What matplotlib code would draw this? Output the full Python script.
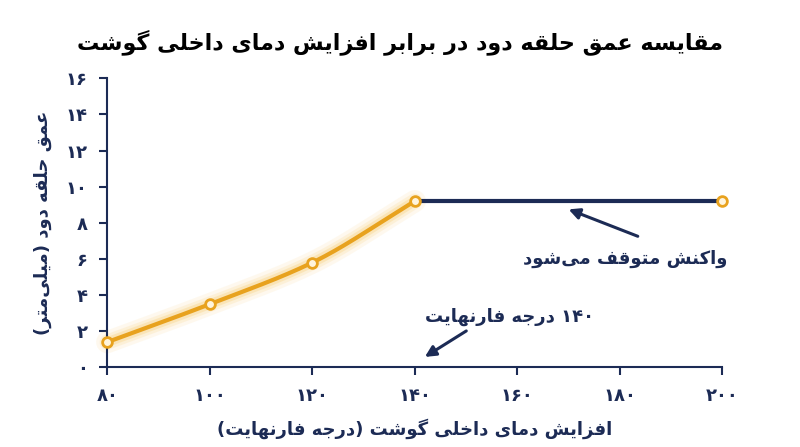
import matplotlib
matplotlib.use("Agg")
import matplotlib.pyplot as plt
import numpy as np

# ---- data ----
temps = [80, 100, 120, 140, 200]
depth = [1.4, 3.5, 5.8, 9.2, 9.2]
x_ticks = [80, 100, 120, 140, 160, 180, 200]
y_ticks = [0, 2, 4, 6, 8, 10, 12, 14, 16]
title_txt = "مقایسه عمق حلقه دود در برابر افزایش دمای داخلی گوشت"
xlabel_txt = "افزایش دمای داخلی گوشت (درجه فارنهایت)"
ylabel_txt = "عمق حلقه دود (میلی\u200cمتر)"
note1 = "واکنش متوقف می\u200cشود"
note2 = "۱۴۰ درجه فارنهایت"

# ---- minimal Persian shaping ----
FORMS = {
 'ا': (0xFE8D, 0xFE8E), 'د': (0xFEA9, 0xFEAA), 'ر': (0xFEAD, 0xFEAE),
 'ز': (0xFEAF, 0xFEB0), 'و': (0xFEED, 0xFEEE),
 'ب': (0xFE8F, 0xFE90, 0xFE91, 0xFE92), 'ت': (0xFE95, 0xFE96, 0xFE97, 0xFE98),
 'ج': (0xFE9D, 0xFE9E, 0xFE9F, 0xFEA0), 'ح': (0xFEA1, 0xFEA2, 0xFEA3, 0xFEA4),
 'خ': (0xFEA5, 0xFEA6, 0xFEA7, 0xFEA8), 'س': (0xFEB1, 0xFEB2, 0xFEB3, 0xFEB4),
 'ش': (0xFEB5, 0xFEB6, 0xFEB7, 0xFEB8), 'ع': (0xFEC9, 0xFECA, 0xFECB, 0xFECC),
 'ف': (0xFED1, 0xFED2, 0xFED3, 0xFED4), 'ق': (0xFED5, 0xFED6, 0xFED7, 0xFED8),
 'ل': (0xFEDD, 0xFEDE, 0xFEDF, 0xFEE0), 'م': (0xFEE1, 0xFEE2, 0xFEE3, 0xFEE4),
 'ن': (0xFEE5, 0xFEE6, 0xFEE7, 0xFEE8), 'ه': (0xFEE9, 0xFEEA, 0xFEEB, 0xFEEC),
 'ی': (0xFBFC, 0xFBFD, 0xFBFE, 0xFBFF), 'ک': (0xFB8E, 0xFB8F, 0xFB90, 0xFB91),
 'گ': (0xFB92, 0xFB93, 0xFB94, 0xFB95),
}

def shape(s):
    out = []
    n = len(s)
    for i, c in enumerate(s):
        if c not in FORMS:
            if c != '\u200c':
                out.append(c)
            continue
        f = FORMS[c]
        prev = s[i-1] if i > 0 else ''
        nxt = s[i+1] if i < n-1 else ''
        jp = prev in FORMS and len(FORMS[prev]) == 4
        jn = len(f) == 4 and nxt in FORMS
        if jp and jn: code = f[3]
        elif jp: code = f[1]
        elif jn: code = f[2]
        else: code = f[0]
        out.append(chr(code))
    vis = ''.join(out)[::-1]
    vis = vis.translate(str.maketrans('()', ')('))
    res, run = [], []
    for c in vis:
        if c.isdigit():
            run.append(c)
        else:
            res.extend(run[::-1]); run = []
            res.append(c)
    res.extend(run[::-1])
    return ''.join(res)

def fa(n):
    return str(n).translate(str.maketrans('0123456789', '۰۱۲۳۴۵۶۷۸۹'))

def pchip(x, y, xs):
    x = np.asarray(x, float); y = np.asarray(y, float)
    h = np.diff(x); d = np.diff(y) / h
    m = np.zeros_like(y)
    for k in range(1, len(x)-1):
        if d[k-1]*d[k] > 0:
            w1 = 2*h[k] + h[k-1]; w2 = h[k] + 2*h[k-1]
            m[k] = (w1 + w2) / (w1/d[k-1] + w2/d[k])
    m[0] = d[0]; m[-1] = d[-1]
    ys = []
    for xv in xs:
        k = min(np.searchsorted(x, xv, side='right') - 1, len(x)-2)
        t = (xv - x[k]) / h[k]
        h00 = 2*t**3 - 3*t**2 + 1; h10 = t**3 - 2*t**2 + t
        h01 = -2*t**3 + 3*t**2; h11 = t**3 - t**2
        ys.append(h00*y[k] + h10*h[k]*m[k] + h01*y[k+1] + h11*h[k]*m[k+1])
    return np.array(ys)

plt.rcParams['font.family'] = ['DejaVu Sans']
NAVY = '#1c2b55'
ORANGE = '#e8a21e'

fig = plt.figure(figsize=(8, 4.47), dpi=100)
ax = fig.add_axes([0.134, 0.178, 0.769, 0.647])

xs = np.linspace(temps[0], temps[3], 200)
ys = pchip(temps[:4], depth[:4], xs)
for lw, a in [(16, 0.10), (11, 0.15), (7, 0.25)]:
    ax.plot(xs, ys, color='#f7c45a', lw=lw, alpha=a, solid_capstyle='round', clip_on=False)
ax.plot(xs, ys, color=ORANGE, lw=3, clip_on=False, zorder=3)
ax.plot(temps[3:], depth[3:], color=NAVY, lw=3, zorder=3, clip_on=False)
ax.plot(temps, depth, 'o', ms=7, mfc='#fff4dc', mec=ORANGE, mew=2, zorder=4, clip_on=False)

ax.set_xlim(80, 200)
ax.set_ylim(0, 16)
ax.set_xticks(x_ticks)
ax.set_xticklabels([fa(v) for v in x_ticks])
ax.set_yticks(y_ticks)
ax.set_yticklabels([fa(v) for v in y_ticks])
for s in ['top', 'right']:
    ax.spines[s].set_visible(False)
for s in ['left', 'bottom']:
    ax.spines[s].set_color(NAVY); ax.spines[s].set_linewidth(1.5)
ax.tick_params(colors=NAVY, labelsize=13, width=1.5, length=6, pad=8)
for lab in ax.get_xticklabels() + ax.get_yticklabels():
    lab.set_fontweight('bold')

ax.set_xlabel(shape(xlabel_txt), fontsize=13, fontweight='bold', color=NAVY, labelpad=10)
ax.set_ylabel(shape(ylabel_txt), fontsize=13, fontweight='bold', color=NAVY, labelpad=10)
fig.suptitle(shape(title_txt), fontsize=16, fontweight='bold', color='black', y=0.935)

ax.annotate('', xy=(169.5, 8.8), xytext=(184, 7.2),
            arrowprops=dict(arrowstyle='-|>', color=NAVY, lw=2.2, mutation_scale=16))
ax.text(181, 6.0, shape(note1), ha='center', va='center', fontsize=13,
        fontweight='bold', color=NAVY)
ax.annotate('', xy=(141.5, 0.5), xytext=(150.5, 2.1),
            arrowprops=dict(arrowstyle='-|>', color=NAVY, lw=2.2, mutation_scale=16))
ax.text(158.5, 2.8, shape(note2), ha='center', va='center', fontsize=13,
        fontweight='bold', color=NAVY)

fig.savefig('out.png', dpi=100, facecolor='white')
